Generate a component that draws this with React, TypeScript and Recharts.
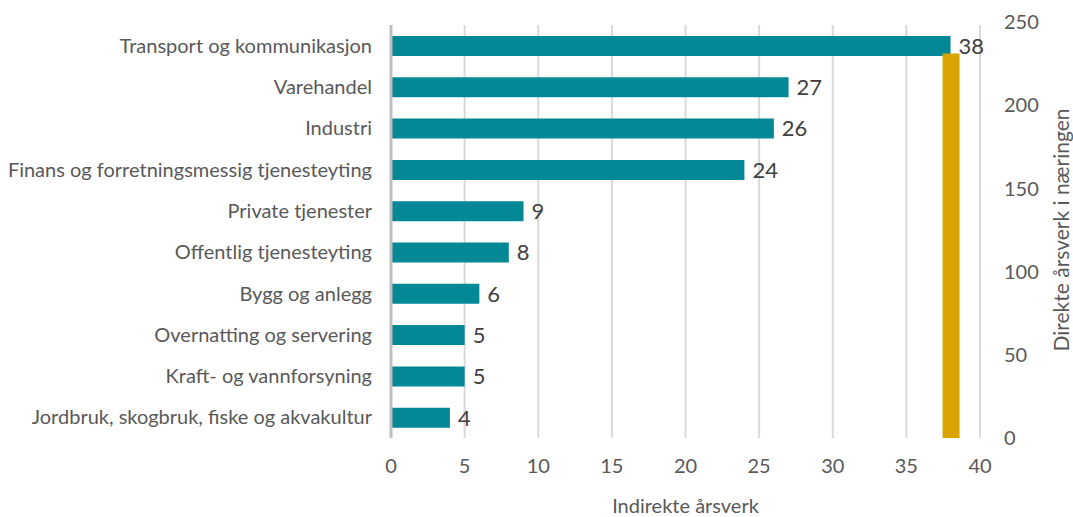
import React from 'react';
import {
  Bar,
  BarChart,
  CartesianGrid,
  LabelList,
  XAxis,
  YAxis,
  Label,
} from 'recharts';

const naeringer = [
  'Transport og kommunikasjon',
  'Varehandel',
  'Industri',
  'Finans og forretningsmessig tjenesteyting',
  'Private tjenester',
  'Offentlig tjenesteyting',
  'Bygg og anlegg',
  'Overnatting og servering',
  'Kraft- og vannforsyning',
  'Jordbruk, skogbruk, fiske og akvakultur',
];
const indirekte = [38, 27, 26, 24, 9, 8, 6, 5, 5, 4];
const indirekteTicks = [0, 5, 10, 15, 20, 25, 30, 35, 40];

// direkte årsverk i næringen (egen akse til høyre)
const direktePosisjon = [38];
const direkte = [231];
const direkteTicks = [0, 50, 100, 150, 200, 250];

const W = 1073;
const H = 517;
const font = 'Lato, "Noto Sans", sans-serif';
const tekst = '#595959';

const App = () => {
  const data = naeringer.map((n, i) => ({naering: n, verdi: indirekte[i]}));
  const direkteData = direktePosisjon.map((x, i) => ({x, direkte: direkte[i]}));

  return (
    <div style={{position: 'absolute', left: 0, top: 0, width: W, height: H, fontFamily: font}}>
      <div style={{position: 'absolute', left: 0, top: 0}}>
        <BarChart
          width={W}
          height={H}
          data={data}
          layout="vertical"
          margin={{top: 25, right: 93, bottom: 4, left: 0}}
          barSize={20}
        >
          <CartesianGrid horizontal={false} stroke="#d9d9d9" strokeWidth={2} />
          <XAxis
            type="number"
            domain={[0, 40]}
            ticks={indirekteTicks}
            axisLine={false}
            tickLine={false}
            tickMargin={15}
            height={75}
            tick={{fill: tekst, fontSize: 20, fontFamily: font}}
          >
            <Label
              value="Indirekte årsverk"
              position="insideBottom"
              offset={0}
              style={{fill: tekst, fontSize: 20, fontFamily: font}}
            />
          </XAxis>
          <YAxis
            type="category"
            dataKey="naering"
            width={391}
            tickLine={false}
            tickMargin={13}
            axisLine={{stroke: '#bfbfbf', strokeWidth: 3}}
            tick={{fill: tekst, fontSize: 20, fontFamily: font}}
            interval={0}
          />
          <Bar dataKey="verdi" fill="#048896" isAnimationActive={false}>
            <LabelList
              dataKey="verdi"
              position="right"
              offset={8}
              style={{fill: '#404040', fontSize: 22, fontFamily: font}}
            />
          </Bar>
        </BarChart>
      </div>
      <div style={{position: 'absolute', left: 0, top: 0, pointerEvents: 'none'}}>
        <BarChart
          width={W}
          height={H}
          data={direkteData}
          margin={{top: 22, right: 0, bottom: 79, left: 391}}
        >
          <XAxis type="number" dataKey="x" domain={[0, 40]} hide />
          <YAxis
            orientation="right"
            domain={[0, 250]}
            ticks={direkteTicks}
            width={93}
            axisLine={false}
            tickLine={false}
            tickMargin={18}
            tick={{fill: tekst, fontSize: 20, fontFamily: font, textAnchor: 'start'}}
          >
            <Label
              value="Direkte årsverk i næringen"
              angle={-90}
              position="insideRight"
              offset={11}
              style={{fill: tekst, fontSize: 21, fontFamily: font, textAnchor: 'middle'}}
            />
          </YAxis>
          <Bar dataKey="direkte" fill="#d9a300" barSize={17} isAnimationActive={false} />
        </BarChart>
      </div>
    </div>
  );
};

export default App;
